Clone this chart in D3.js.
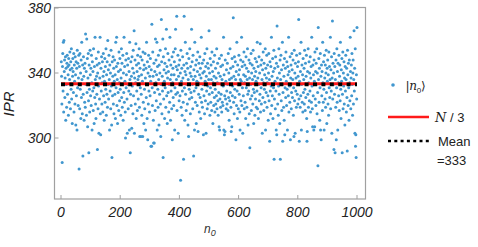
<!DOCTYPE html>
<html>
<head>
<meta charset="utf-8">
<script src="https://cdn.jsdelivr.net/npm/d3@7"></script>
<style>
  body { margin: 0; background: #fff; }
  svg text { font-family: "Liberation Sans", Arial, sans-serif; }
</style>
</head>
<body>
<svg width="478" height="247"></svg>
<script>
// IPR of each initial state |n0>, n0 = 1 .. 1000 (20 per row)
let ipr = [
  347,338,321,285,344,352,329,359,316,360,341,348,325,337,350,311,343,333,319,346,
  351,327,344,339,314,349,345,322,336,353,342,318,347,330,355,324,343,309,338,349,
  341,328,352,316,345,335,321,350,339,308,347,326,343,305,354,331,346,320,337,351,
  281,344,318,352,330,340,312,348,325,359,336,315,345,289,327,350,338,311,343,322,
  346,319,364,333,341,314,361,328,349,307,337,352,323,291,345,330,316,354,339,326,
  343,320,351,334,305,347,329,341,317,355,331,309,344,325,362,336,321,312,349,338,
  327,345,293,340,318,353,332,303,346,324,337,362,315,302,343,329,350,321,334,347,
  316,338,352,326,341,311,335,349,322,344,330,355,314,339,327,347,319,360,333,342,
  324,351,336,305,345,329,340,318,354,332,308,288,347,326,338,350,321,343,315,335,
  348,327,339,312,359,331,344,362,320,336,309,346,328,341,317,353,334,323,349,330,
  342,314,337,355,325,346,319,333,351,311,340,328,362,322,344,335,316,300,348,331,
  339,352,324,303,345,333,318,349,329,341,305,359,336,291,327,347,320,338,306,350,
  332,343,315,354,326,340,366,303,337,348,321,334,358,312,345,329,341,317,351,336,
  324,346,338,355,319,301,343,331,350,301,327,339,314,348,335,301,353,322,342,309,
  345,330,318,352,337,305,343,325,359,333,312,347,299,340,321,351,329,344,316,338,
  326,349,335,295,342,295,370,331,320,353,338,311,297,346,297,328,341,317,361,334,
  348,323,339,359,305,344,330,319,351,336,308,345,327,340,354,321,301,333,373,347,
  315,338,329,361,288,350,324,342,335,312,346,331,355,319,340,367,326,344,309,337,
  352,328,341,316,348,333,322,362,336,311,345,329,339,318,350,299,334,343,325,353,
  320,339,347,305,331,355,367,327,344,336,375,317,342,328,351,303,338,345,323,333,
  348,326,340,274,354,319,335,343,314,329,350,337,322,287,345,375,331,311,341,359,
  327,339,317,346,333,352,321,343,308,336,301,349,330,324,355,340,315,344,328,338,
  367,325,347,333,318,351,336,289,342,329,305,359,338,322,345,331,309,348,335,320,
  341,353,304,334,327,346,316,339,350,325,343,312,337,362,322,330,346,319,340,333,
  302,348,326,341,315,352,335,323,344,303,338,329,355,318,346,332,321,343,336,366,
  327,340,314,349,331,322,345,336,317,353,328,341,309,334,347,320,338,325,351,316,
  330,343,321,337,326,355,318,334,346,323,314,340,328,307,349,305,324,338,319,344,
  327,351,316,336,322,345,320,332,362,305,339,302,326,304,348,324,335,318,342,329,
  321,346,333,317,352,325,340,311,336,323,355,328,343,319,304,337,307,349,326,332,
  344,374,322,338,315,350,330,325,347,336,299,341,320,359,329,312,345,333,318,339,
  351,327,342,316,305,336,348,323,335,362,320,344,331,303,347,326,339,353,318,334,
  345,322,338,312,350,331,343,319,336,355,327,308,341,329,348,315,337,294,346,324,
  333,352,317,340,326,345,336,321,354,330,309,343,328,338,314,349,324,341,335,319,
  347,329,359,318,337,344,312,333,350,323,340,327,358,316,345,331,321,348,336,303,
  342,325,353,334,317,346,330,339,322,355,305,343,328,337,351,319,334,345,326,311,
  340,352,323,336,298,347,329,315,344,332,362,320,338,326,349,312,341,331,354,287,
  324,343,335,318,350,329,305,346,302,369,337,321,344,314,332,355,327,340,309,348,
  287,336,351,323,342,317,333,359,298,328,345,319,338,311,349,302,331,343,325,353,
  335,320,347,330,305,344,339,326,362,316,341,332,322,350,299,337,345,318,328,352,
  342,325,336,348,314,331,301,354,323,340,303,346,329,337,319,351,333,327,344,321,
  338,347,373,324,298,335,352,319,341,326,359,305,333,345,322,339,316,349,328,336,
  343,321,354,330,317,346,325,338,351,312,298,304,341,327,355,319,334,347,323,340,
  329,350,316,337,344,322,362,332,318,307,345,326,339,305,348,335,307,353,324,341,
  320,346,333,355,315,340,328,283,368,336,349,322,343,311,331,352,305,338,299,345,
  326,341,317,359,334,322,347,330,305,351,337,324,345,319,340,354,328,309,343,335,
  348,321,339,314,353,331,344,325,336,362,318,342,329,350,303,337,372,324,346,333,
  340,293,352,327,344,291,336,319,348,299,331,355,322,341,305,346,334,326,351,317,
  338,345,323,359,330,312,342,335,349,291,327,353,318,340,332,347,321,337,308,344,
  329,351,336,316,343,325,292,354,339,320,346,331,311,348,334,323,362,341,318,337,
  345,326,352,333,314,340,348,321,336,366,329,343,303,355,295,302,288,339,324,368
];

let xTicks = [0, 200, 400, 600, 800, 1000];
let yTicks = [300, 340, 380];
let nOver3 = 1000 / 3;
let meanIPR = 333;

let svg = d3.select("svg");

// scales: 0 -> 61px, 1000 -> 357px ; 380 -> 8px, 300 -> 138px
let x = d3.scaleLinear().domain([0, 1000]).range([61, 357]);
let y = d3.scaleLinear().domain([300, 380]).range([138, 8]);

let frameColor = "#a0a0a0";
let dotColor = "#4197cf";

// frame
svg.append("rect")
    .attr("x", 54.5).attr("y", 7.5)
    .attr("width", 311).attr("height", 191.5)
    .attr("fill", "none")
    .attr("stroke", frameColor)
    .attr("stroke-width", 1.2);

// ticks (inside)
svg.selectAll(".xtick").data(xTicks).enter().append("line")
    .attr("x1", d => x(d)).attr("x2", d => x(d))
    .attr("y1", 199).attr("y2", 195)
    .attr("stroke", frameColor);

svg.selectAll(".ytick").data(yTicks).enter().append("line")
    .attr("x1", 54.5).attr("x2", 58.5)
    .attr("y1", d => y(d)).attr("y2", d => y(d))
    .attr("stroke", frameColor);

// tick labels
svg.selectAll(".xlab").data(xTicks).enter().append("text")
    .attr("x", d => x(d)).attr("y", 216.5)
    .attr("text-anchor", "middle")
    .attr("font-size", 14).attr("font-style", "italic")
    .attr("fill", "#222")
    .text(d => d);

svg.selectAll(".ylab").data(yTicks).enter().append("text")
    .attr("x", 51).attr("y", d => y(d)).attr("dy", "0.36em")
    .attr("text-anchor", "end")
    .attr("font-size", 14).attr("font-style", "italic")
    .attr("fill", "#222")
    .text(d => d);

// axis titles
svg.append("text")
    .attr("transform", "translate(14,104) rotate(-90)")
    .attr("text-anchor", "middle")
    .attr("font-size", 15).attr("font-style", "italic")
    .attr("fill", "#222")
    .text("IPR");

let xt = svg.append("text")
    .attr("x", 204).attr("y", 233)
    .attr("font-size", 12).attr("font-style", "italic")
    .attr("fill", "#333");
xt.append("tspan").text("n");
xt.append("tspan").attr("dy", 3).attr("font-size", 9).text("0");

// points
svg.append("g").selectAll("circle")
    .data(ipr).enter().append("circle")
    .attr("cx", (d, i) => x(i + 1))
    .attr("cy", d => y(d))
    .attr("r", 1.5)
    .attr("fill", dotColor);

// N/3 line and mean line
svg.append("line")
    .attr("x1", x(0)).attr("x2", x(1000))
    .attr("y1", y(nOver3)).attr("y2", y(nOver3))
    .attr("stroke", "#ff1a1a").attr("stroke-width", 3);

svg.append("line")
    .attr("x1", x(0)).attr("x2", x(1000))
    .attr("y1", y(meanIPR)).attr("y2", y(meanIPR))
    .attr("stroke", "#000").attr("stroke-width", 3.8)
    .attr("stroke-dasharray", "4,4.4");

// legend
let leg = svg.append("g");
leg.append("circle").attr("cx", 393).attr("cy", 85).attr("r", 1.8).attr("fill", dotColor);
let l1 = leg.append("text").attr("x", 406).attr("y", 90).attr("font-size", 12).attr("fill", "#222");
l1.append("tspan").text("|");
l1.append("tspan").attr("font-style", "italic").attr("font-family", "DejaVu Serif").text("n");
l1.append("tspan").attr("dy", 3).attr("font-size", 8).text("0");
l1.append("tspan").attr("dy", -3).text("⟩");

leg.append("line").attr("x1", 388).attr("x2", 429).attr("y1", 117).attr("y2", 117)
    .attr("stroke", "#ff1a1a").attr("stroke-width", 2.5);
let l2 = leg.append("text").attr("x", 435).attr("y", 122).attr("font-size", 13).attr("fill", "#222");
l2.append("tspan").attr("font-style", "italic").attr("font-family", "DejaVu Serif").text("N");
l2.append("tspan").text(" / 3");

leg.append("line").attr("x1", 388).attr("x2", 429).attr("y1", 141).attr("y2", 141)
    .attr("stroke", "#000").attr("stroke-width", 2.5)
    .attr("stroke-dasharray", "3,3.3");
leg.append("text").attr("x", 438).attr("y", 146).attr("font-size", 13).attr("fill", "#222").text("Mean");
leg.append("text").attr("x", 437).attr("y", 165).attr("font-size", 13).attr("fill", "#222").text("=333");
</script>
</body>
</html>
